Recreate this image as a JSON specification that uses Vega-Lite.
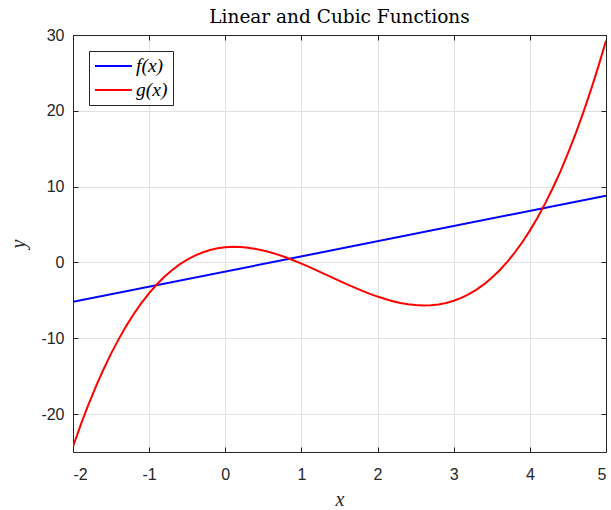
{
  "$schema": "https://vega.github.io/schema/vega-lite/v6.json",
  "width": 533,
  "height": 417,
  "autosize": {"type": "none"},
  "padding": {"left": 73, "top": 35, "right": 5, "bottom": 58},
  "background": "white",
  "title": {"text": "Linear and Cubic Functions", "font": "DejaVu Serif", "fontSize": 18.5, "fontWeight": "normal", "color": "#000000", "offset": 1, "anchor": "middle"},
  "config": {
    "view": {"stroke": "#262626", "strokeWidth": 1},
    "axis": {
      "labelFont": "Liberation Sans", "labelFontSize": 16, "labelColor": "#262626",
      "domainColor": "#262626", "tickColor": "#262626", "tickSize": -5, "tickWidth": 1,
      "gridColor": "#e1e1e1", "gridWidth": 1,
      "titleFont": "Liberation Serif", "titleFontStyle": "italic", "titleFontWeight": "normal", "titleFontSize": 20, "titleColor": "#262626"
    },
    "legend": {
      "orient": "none", "legendX": 16, "legendY": 16,
      "strokeColor": "#262626", "fillColor": "white", "padding": 5,
      "symbolType": "M-1,0H3.1", "symbolStrokeWidth": 2, "symbolSize": 324,
      "labelFont": "Liberation Serif", "labelFontStyle": "italic", "labelFontSize": 19.5, "labelColor": "#000000",
      "labelOffset": 22, "rowPadding": 4, "title": null
    }
  },
  "data": {"values": [
    {"x": -2, "s": "f(x)", "y": -5.2},
    {"x": 5, "s": "f(x)", "y": 8.8},
    {"x": -2.0, "s": "g(x)", "y": -24.3},
    {"x": -1.9, "s": "g(x)", "y": -21.465},
    {"x": -1.8, "s": "g(x)", "y": -18.826},
    {"x": -1.7, "s": "g(x)", "y": -16.377},
    {"x": -1.6, "s": "g(x)", "y": -14.112},
    {"x": -1.5, "s": "g(x)", "y": -12.025},
    {"x": -1.4, "s": "g(x)", "y": -10.11},
    {"x": -1.3, "s": "g(x)", "y": -8.361},
    {"x": -1.2, "s": "g(x)", "y": -6.772},
    {"x": -1.1, "s": "g(x)", "y": -5.337},
    {"x": -1.0, "s": "g(x)", "y": -4.05},
    {"x": -0.9, "s": "g(x)", "y": -2.905},
    {"x": -0.8, "s": "g(x)", "y": -1.896},
    {"x": -0.7, "s": "g(x)", "y": -1.017},
    {"x": -0.6, "s": "g(x)", "y": -0.262},
    {"x": -0.5, "s": "g(x)", "y": 0.375},
    {"x": -0.4, "s": "g(x)", "y": 0.9},
    {"x": -0.3, "s": "g(x)", "y": 1.319},
    {"x": -0.2, "s": "g(x)", "y": 1.638},
    {"x": -0.1, "s": "g(x)", "y": 1.863},
    {"x": 0.0, "s": "g(x)", "y": 2.0},
    {"x": 0.1, "s": "g(x)", "y": 2.055},
    {"x": 0.2, "s": "g(x)", "y": 2.034},
    {"x": 0.3, "s": "g(x)", "y": 1.943},
    {"x": 0.4, "s": "g(x)", "y": 1.788},
    {"x": 0.5, "s": "g(x)", "y": 1.575},
    {"x": 0.6, "s": "g(x)", "y": 1.31},
    {"x": 0.7, "s": "g(x)", "y": 0.999},
    {"x": 0.8, "s": "g(x)", "y": 0.648},
    {"x": 0.9, "s": "g(x)", "y": 0.263},
    {"x": 1.0, "s": "g(x)", "y": -0.15},
    {"x": 1.1, "s": "g(x)", "y": -0.585},
    {"x": 1.2, "s": "g(x)", "y": -1.036},
    {"x": 1.3, "s": "g(x)", "y": -1.497},
    {"x": 1.4, "s": "g(x)", "y": -1.962},
    {"x": 1.5, "s": "g(x)", "y": -2.425},
    {"x": 1.6, "s": "g(x)", "y": -2.88},
    {"x": 1.7, "s": "g(x)", "y": -3.321},
    {"x": 1.8, "s": "g(x)", "y": -3.742},
    {"x": 1.9, "s": "g(x)", "y": -4.137},
    {"x": 2.0, "s": "g(x)", "y": -4.5},
    {"x": 2.1, "s": "g(x)", "y": -4.825},
    {"x": 2.2, "s": "g(x)", "y": -5.106},
    {"x": 2.3, "s": "g(x)", "y": -5.337},
    {"x": 2.4, "s": "g(x)", "y": -5.512},
    {"x": 2.5, "s": "g(x)", "y": -5.625},
    {"x": 2.6, "s": "g(x)", "y": -5.67},
    {"x": 2.7, "s": "g(x)", "y": -5.641},
    {"x": 2.8, "s": "g(x)", "y": -5.532},
    {"x": 2.9, "s": "g(x)", "y": -5.337},
    {"x": 3.0, "s": "g(x)", "y": -5.05},
    {"x": 3.1, "s": "g(x)", "y": -4.665},
    {"x": 3.2, "s": "g(x)", "y": -4.176},
    {"x": 3.3, "s": "g(x)", "y": -3.577},
    {"x": 3.4, "s": "g(x)", "y": -2.862},
    {"x": 3.5, "s": "g(x)", "y": -2.025},
    {"x": 3.6, "s": "g(x)", "y": -1.06},
    {"x": 3.7, "s": "g(x)", "y": 0.039},
    {"x": 3.8, "s": "g(x)", "y": 1.278},
    {"x": 3.9, "s": "g(x)", "y": 2.663},
    {"x": 4.0, "s": "g(x)", "y": 4.2},
    {"x": 4.1, "s": "g(x)", "y": 5.895},
    {"x": 4.2, "s": "g(x)", "y": 7.754},
    {"x": 4.3, "s": "g(x)", "y": 9.783},
    {"x": 4.4, "s": "g(x)", "y": 11.988},
    {"x": 4.5, "s": "g(x)", "y": 14.375},
    {"x": 4.6, "s": "g(x)", "y": 16.95},
    {"x": 4.7, "s": "g(x)", "y": 19.719},
    {"x": 4.8, "s": "g(x)", "y": 22.688},
    {"x": 4.9, "s": "g(x)", "y": 25.863},
    {"x": 5.0, "s": "g(x)", "y": 29.25}
  ]},
  "layer": [
    {
      "mark": {"type": "line", "strokeWidth": 2, "clip": true},
      "encoding": {
        "x": {"field": "x", "type": "quantitative", "scale": {"domain": [-2, 5], "nice": false, "zero": false},
          "axis": {"values": [-2, -1, 0, 1, 2, 3, 4, 5], "labelExpr": "'' + datum.value", "labelPadding": 19, "title": "x", "titlePadding": 7}},
        "y": {"field": "y", "type": "quantitative", "scale": {"domain": [-25, 30], "nice": false, "zero": false},
          "axis": {"values": [-20, -10, 0, 10, 20, 30], "labelExpr": "'' + datum.value", "labelPadding": 14, "title": "y", "titlePadding": 12}},
        "color": {"field": "s", "type": "nominal", "scale": {"domain": ["f(x)", "g(x)"], "range": ["#0000ff", "#ff0000"]}, "legend": {"title": null}}
      }
    },
    {
      "mark": {"type": "line", "strokeOpacity": 0},
      "encoding": {
        "x": {"field": "x", "type": "quantitative", "axis": {"orient": "top", "values": [-2, -1, 0, 1, 2, 3, 4, 5], "labels": false, "grid": false, "title": null}},
        "y": {"field": "y", "type": "quantitative", "axis": {"orient": "right", "values": [-20, -10, 0, 10, 20, 30], "labels": false, "grid": false, "title": null}},
        "detail": {"field": "s"}
      }
    }
  ],
  "resolve": {"axis": {"x": "independent", "y": "independent"}}
}
